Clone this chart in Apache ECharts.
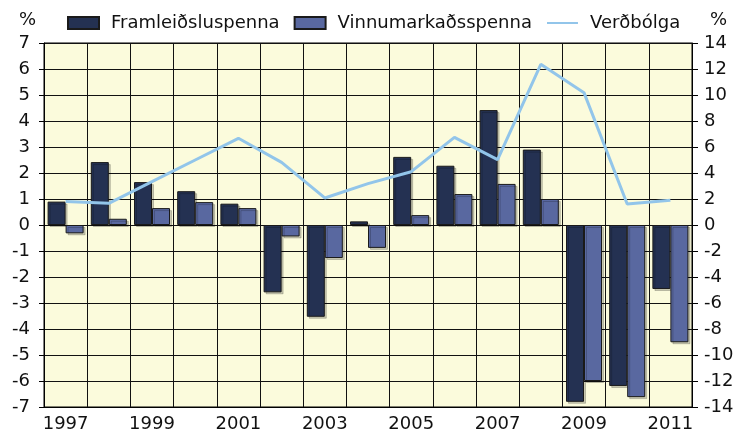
<!DOCTYPE html>
<html>
<head>
    <meta charset="utf-8">
    <script src="https://cdn.jsdelivr.net/npm/echarts@6/dist/echarts.min.js"></script>
    <style>
        body { margin: 0; background: #fff; }
        #chart { width: 737px; height: 434px; }
    </style>
</head>
<body>
<div id="chart"></div>
<script>
    // ár
    var years = ['1997', '1998', '1999', '2000', '2001', '2002', '2003', '2004',
                 '2005', '2006', '2007', '2008', '2009', '2010', '2011'];
    // framleiðsluspenna, % (vinstri ás)
    var framleidsluspenna = [0.9, 2.42, 1.65, 1.3, 0.82, -2.59, -3.53, 0.14,
                             2.62, 2.28, 4.42, 2.9, -6.8, -6.19, -2.46];
    // vinnumarkaðsspenna, % (vinstri ás)
    var vinnumarkadsspenna = [-0.32, 0.24, 0.65, 0.88, 0.65, -0.44, -1.27, -0.88,
                              0.38, 1.19, 1.58, 1.0, -6.0, -6.62, -4.51];
    // verðbólga, % (hægri ás)
    var verdbolga = [1.8, 1.67, 3.33, 5.0, 6.67, 4.82, 2.08, 3.18,
                     4.1, 6.74, 5.03, 12.36, 10.18, 1.62, 1.9];

    var font = 'DejaVu Sans';
    var myChart = echarts.init(document.getElementById('chart'));
    var option = {
        animation: false,
        textStyle: { fontFamily: font },
        legend: {
            left: 62,
            top: 9,
            itemWidth: 31,
            itemHeight: 12,
            itemGap: 14,
            textStyle: { fontSize: 18, color: '#111', fontFamily: font, padding: [0, 0, 0, 7] },
            data: [
                { name: 'Framleiðsluspenna', icon: 'rect' },
                { name: 'Vinnumarkaðsspenna', icon: 'rect' },
                { name: 'Verðbólga', itemStyle: { opacity: 0 } }
            ]
        },
        grid: {
            left: 44, right: 45, top: 43, bottom: 27,
            show: true,
            backgroundColor: '#fbfbdc',
            borderColor: '#000',
            borderWidth: 1
        },
        xAxis: {
            type: 'category',
            data: years,
            boundaryGap: true,
            axisLine: { onZero: false, lineStyle: { color: '#000' } },
            axisTick: { show: false },
            axisLabel: { interval: 1, fontSize: 18, color: '#111', margin: 8 },
            splitLine: { show: true, interval: 0, lineStyle: { color: '#111', width: 1 } }
        },
        yAxis: [{
            type: 'value',
            min: -7, max: 7, interval: 1,
            name: '%',
            nameGap: 14,
            nameTextStyle: { fontSize: 18, color: '#111', align: 'right', padding: [0, 8, 0, 0] },
            axisLine: { show: true, lineStyle: { color: '#000' } },
            axisTick: { show: true, length: 5, lineStyle: { color: '#000' } },
            axisLabel: { fontSize: 18, color: '#111', margin: 14 },
            splitLine: { lineStyle: { color: '#111', width: 1 } }
        }, {
            type: 'value',
            min: -14, max: 14, interval: 2,
            name: '%',
            nameGap: 14,
            nameTextStyle: { fontSize: 18, color: '#111', align: 'left', padding: [0, 0, 0, 18] },
            axisLine: { show: true, lineStyle: { color: '#000' } },
            axisTick: { show: true, length: 6, lineStyle: { color: '#000' } },
            axisLabel: { fontSize: 18, color: '#111', margin: 12 },
            splitLine: { show: false }
        }],
        series: [{
            name: 'Framleiðsluspenna',
            type: 'bar',
            data: framleidsluspenna,
            barWidth: 18,
            barGap: '0%',
            itemStyle: {
                color: '#243152',
                borderColor: '#1a1a1a',
                borderWidth: 1,
                shadowColor: 'rgba(0,0,0,0.2)',
                shadowOffsetX: 2,
                shadowOffsetY: 2
            }
        }, {
            name: 'Vinnumarkaðsspenna',
            type: 'bar',
            data: vinnumarkadsspenna,
            barWidth: 18,
            barGap: '0%',
            itemStyle: {
                color: '#5968a0',
                borderColor: '#1a1a1a',
                borderWidth: 1,
                shadowColor: 'rgba(0,0,0,0.2)',
                shadowOffsetX: 2,
                shadowOffsetY: 2
            }
        }, {
            name: 'Verðbólga',
            type: 'line',
            yAxisIndex: 1,
            data: verdbolga,
            symbol: 'none',
            lineStyle: { color: '#92c5ea', width: 3 },
            itemStyle: { color: '#92c5ea' }
        }]
    };
    myChart.setOption(option);
</script>
</body>
</html>
